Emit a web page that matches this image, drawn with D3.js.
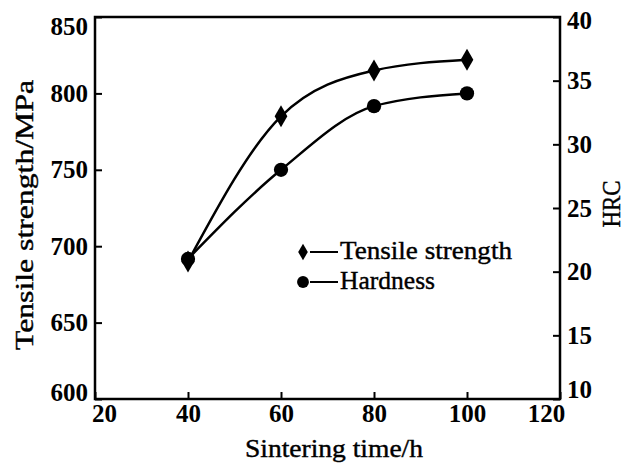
<!DOCTYPE html>
<html>
<head>
<meta charset="utf-8">
<script src="https://cdn.jsdelivr.net/npm/d3@7"></script>
</head>
<body style="margin:0; background:#fff">
<div id="chart"></div>
<script>
// sintering time (h)
const hours = [40, 60, 80, 100];
// tensile strength (MPa), left axis
const tensile = [690, 785, 815, 822];
// hardness (HRC), right axis
const hardness = [21, 28, 33, 34];

const xTicks = [20, 40, 60, 80, 100, 120];
const leftTicks = [600, 650, 700, 750, 800, 850];
const rightTicks = [10, 15, 20, 25, 30, 35, 40];

let width = 627, height = 465;
let margin = { left: 95, right: 67, top: 17, bottom: 66 };
let fontName = 'Liberation Serif';

let svg = d3.select('#chart').append('svg')
    .attr('width', width)
    .attr('height', height)
    .attr('font-family', fontName);

let x = d3.scaleLinear().domain([20, 120]).range([margin.left, width - margin.right]);
let yL = d3.scaleLinear().domain([600, 850]).range([height - margin.bottom, margin.top]);
let yR = d3.scaleLinear().domain([10, 40]).range([height - margin.bottom, margin.top]);

// frame
svg.append('rect')
    .attr('x', margin.left)
    .attr('y', margin.top)
    .attr('width', width - margin.left - margin.right)
    .attr('height', height - margin.top - margin.bottom)
    .attr('fill', 'none')
    .attr('stroke', '#000')
    .attr('stroke-width', 2.5);

function styleTicks(g) {
    g.attr('font-family', fontName).attr('font-size', 25).attr('font-weight', 'bold');
    g.select('.domain').remove();
    g.selectAll('line').attr('stroke-width', 2);
    g.selectAll('text').attr('fill', '#000');
}

// bottom axis
let xAxis = svg.append('g')
    .attr('transform', `translate(0,${height - margin.bottom})`)
    .call(d3.axisBottom(x).tickValues(xTicks).tickSizeInner(-7).tickSizeOuter(0).tickPadding(5));
styleTicks(xAxis);
xAxis.selectAll('text')
    .attr('dx', d => d == 20 ? 9 : d == 120 ? -14 : 0);

// left axis
let leftAxis = svg.append('g')
    .attr('transform', `translate(${margin.left},0)`)
    .call(d3.axisLeft(yL).tickValues(leftTicks).tickSizeInner(-7).tickSizeOuter(0).tickPadding(7));
styleTicks(leftAxis);
leftAxis.selectAll('text')
    .attr('dy', d => d == 850 ? '0.7em' : d == 600 ? '0.05em' : '0.32em');

// right axis
let rightAxis = svg.append('g')
    .attr('transform', `translate(${width - margin.right},0)`)
    .call(d3.axisRight(yR).tickValues(rightTicks).tickSizeInner(-7).tickSizeOuter(0).tickPadding(7));
styleTicks(rightAxis);
rightAxis.selectAll('text')
    .attr('dy', d => d == 40 ? '0.45em' : d == 10 ? '-0.05em' : '0.32em');

// axis titles
function title(sel, len) {
    return sel.attr('font-family', fontName)
        .attr('font-size', 25)
        .attr('fill', '#000')
        .attr('stroke', '#000')
        .attr('stroke-width', 0.4)
        .attr('textLength', len)
        .attr('lengthAdjust', 'spacingAndGlyphs');
}

title(svg.append('text')
    .attr('transform', `translate(33,215) rotate(-90)`)
    .attr('text-anchor', 'middle'), 270)
    .text('Tensile strength/MPa');

title(svg.append('text')
    .attr('x', 334)
    .attr('y', 457)
    .attr('text-anchor', 'middle'), 178)
    .text('Sintering time/h');

title(svg.append('text')
    .attr('transform', `translate(620,204) rotate(-90)`)
    .attr('text-anchor', 'middle'), 47)
    .text('HRC');

// curves
let tensileLine = d3.line()
    .x((d, i) => x(hours[i]))
    .y(d => yL(d))
    .curve(d3.curveMonotoneX);

let hardLine = d3.line()
    .x((d, i) => x(hours[i]))
    .y(d => yR(d))
    .curve(d3.curveMonotoneX);

svg.append('path')
    .attr('d', tensileLine(tensile))
    .attr('fill', 'none')
    .attr('stroke', '#000')
    .attr('stroke-width', 2.5);

svg.append('path')
    .attr('d', hardLine(hardness))
    .attr('fill', 'none')
    .attr('stroke', '#000')
    .attr('stroke-width', 2.5);

// markers
let diamond = d3.symbol().type(d3.symbolDiamond).size(140);
let circle = d3.symbol().type(d3.symbolCircle).size(160);

svg.append('g').selectAll('path')
    .data(hardness)
    .join('path')
    .attr('transform', (d, i) => `translate(${x(hours[i])},${yR(d)})`)
    .attr('d', circle)
    .attr('fill', '#000');

svg.append('g').selectAll('path')
    .data(tensile)
    .join('path')
    .attr('transform', (d, i) => `translate(${x(hours[i])},${yL(d)})`)
    .attr('d', diamond)
    .attr('fill', '#000');

// legend
let legendItems = [
    { label: 'Tensile strength', len: 172, sym: d3.symbol().type(d3.symbolDiamond).size(80) },
    { label: 'Hardness', len: 95, sym: d3.symbol().type(d3.symbolCircle).size(110) }
];
let legend = svg.append('g').attr('transform', 'translate(303,252)');
legend.selectAll('g')
    .data(legendItems)
    .join('g')
    .attr('transform', (d, i) => `translate(0,${i * 30})`)
    .each(function(d) {
        let g = d3.select(this);
        g.append('path').attr('d', d.sym).attr('fill', '#000');
        g.append('line')
            .attr('x1', 7).attr('x2', 35)
            .attr('y1', 0).attr('y2', 0)
            .attr('stroke', '#000').attr('stroke-width', 2);
        title(g.append('text')
            .attr('x', 37)
            .attr('y', 7), d.len)
            .text(d.label);
    });
</script>
</body>
</html>
